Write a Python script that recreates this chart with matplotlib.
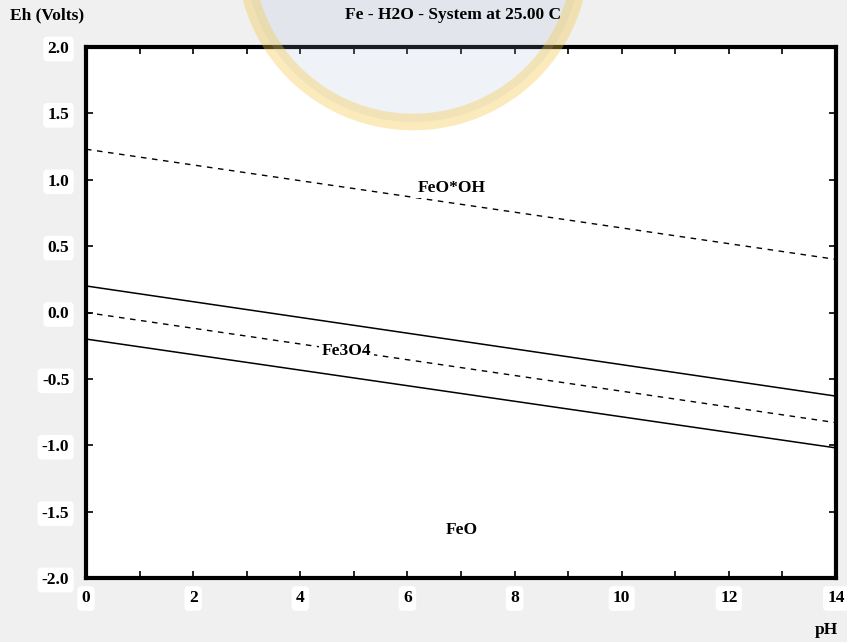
import matplotlib
matplotlib.use('Agg')
import matplotlib.pyplot as plt
from matplotlib.patches import Ellipse
from matplotlib.ticker import MultipleLocator

# data
ph_ends = [0, 14]
eh_fe3o4_feooh = [0.20, -0.63]   # solid
eh_feo_fe3o4 = [-0.20, -1.02]    # solid
eh_h2 = [0.00, -0.83]            # dashed, water lower limit
eh_o2 = [1.23, 0.40]             # dashed, water upper limit
region_names = ['FeO*OH', 'Fe3O4', 'FeO']
region_ph = [6.83, 4.87, 7.02]
region_eh = [0.94, -0.29, -1.64]

plt.rcParams['font.family'] = ['Liberation Serif', 'DejaVu Serif']
plt.rcParams['font.weight'] = 'bold'

fig = plt.figure(figsize=(8.47, 6.42), dpi=100, facecolor='#f0f0f0')
ax = fig.add_axes([86/847, 1-578/642, 750/847, 531/642])
ax.set_facecolor('white')

ax.plot(ph_ends, eh_fe3o4_feooh, color='black', lw=1.1)
ax.plot(ph_ends, eh_feo_fe3o4, color='black', lw=1.1)
ax.plot(ph_ends, eh_h2, color='black', lw=1.0, ls=(0, (4, 4)))
ax.plot(ph_ends, eh_o2, color='black', lw=1.0, ls=(0, (4, 4)))

for name, x, y in zip(region_names, region_ph, region_eh):
    ax.text(x, y, name, ha='center', va='center', fontsize=12.5, fontweight='bold',
            bbox=dict(boxstyle='square,pad=0.15', fc='white', ec='none'))

ax.set_xlim(0, 14)
ax.set_ylim(-2, 2)
ax.xaxis.set_major_locator(MultipleLocator(2))
ax.xaxis.set_minor_locator(MultipleLocator(1))
ax.yaxis.set_major_locator(MultipleLocator(0.5))
ax.yaxis.set_major_formatter(matplotlib.ticker.FormatStrFormatter('%.1f'))
ax.tick_params(axis='both', which='both', direction='in', top=True, right=True,
               length=5, width=1.2, labelsize=12.5)
ax.tick_params(axis='x', pad=9)
ax.tick_params(axis='y', pad=12)
for lab in ax.get_xticklabels() + ax.get_yticklabels():
    lab.set_fontweight('bold')
    lab.set_bbox(dict(boxstyle='round,pad=0.25', fc='white', ec='none'))
for sp in ax.spines.values():
    sp.set_linewidth(3)

fig.text(10/847, 1-15/642, 'Eh (Volts)', ha='left', va='center', fontsize=12.5, fontweight='bold')
fig.text(453/847, 1-15/642, 'Fe - H2O - System at 25.00 C', ha='center', va='center',
         fontsize=12.5, fontweight='bold')
fig.text(838/847, 1-630/642, 'pH', ha='right', va='center', fontsize=12.5, fontweight='bold')

# faint logo watermark at the top, behind the texts
wm = Ellipse((413/847, 1+46/642), 336/847, 336/642, transform=fig.transFigure,
             fc=(0.62, 0.71, 0.85, 0.16), ec=(0.96, 0.78, 0.25, 0.35), lw=12, zorder=1)
fig.patches.append(wm)

fig.savefig('out.png', dpi=100, facecolor=fig.get_facecolor())
